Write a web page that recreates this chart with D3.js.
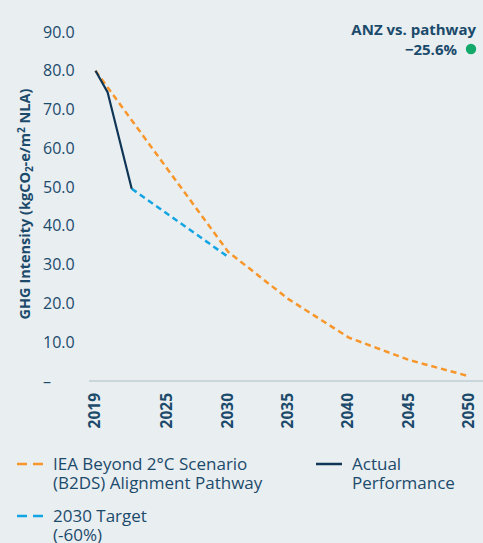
<!DOCTYPE html>
<html>
<head>
<meta charset="utf-8">
<script src="https://cdn.jsdelivr.net/npm/d3@7"></script>
<style>
  body { margin: 0; background: #e9eef1; }
  svg { display: block; font-family: "Open Sans", sans-serif; }
</style>
</head>
<body>
<div class="chart"></div>
<script>
// data
let pathwayYears = [2019, 2025, 2030, 2035, 2040, 2045, 2050];
let pathwayValues = [80, 54.5, 33.3, 21.1, 11.2, 5.4, 1.2];
let actualYears = [2019, 2020, 2022];
let actualValues = [80, 74.5, 49.6];
let targetYears = [2022, 2030];
let targetValues = [49.6, 32];
let xTicks = [2019, 2025, 2030, 2035, 2040, 2045, 2050];
let yTicks = [0, 10, 20, 30, 40, 50, 60, 70, 80, 90];

let svgWidth = 483;
let svgHeight = 543;
let navy = "#1b4a6b";

let svg = d3.select(".chart")
    .append("svg")
    .attr("width", svgWidth)
    .attr("height", svgHeight);

svg.append("rect")
    .attr("width", svgWidth)
    .attr("height", svgHeight)
    .attr("fill", "#e9eef1");

let xScale = d3.scaleLinear()
    .domain([2019, 2050])
    .range([95.5, 469.5]);
let yScale = d3.scaleLinear()
    .domain([0, 90])
    .range([381, 32]);

// baseline
svg.append("line")
    .attr("x1", 89)
    .attr("x2", svgWidth)
    .attr("y1", yScale(0))
    .attr("y2", yScale(0))
    .attr("stroke", "#c9d6dc")
    .attr("stroke-width", 2);

// y tick labels (left aligned)
svg.append("g")
    .selectAll("text")
    .data(yTicks)
    .enter()
    .append("text")
    .attr("x", 43)
    .attr("y", d => yScale(d))
    .attr("dy", "0.35em")
    .attr("fill", navy)
    .style("font-size", "16px")
    .text(d => d === 0 ? "–" : d.toFixed(1));

// x tick labels, rotated
svg.append("g")
    .selectAll("text")
    .data(xTicks)
    .enter()
    .append("text")
    .attr("transform", d => `translate(${xScale(d) - 1}, 393) rotate(-90)`)
    .attr("text-anchor", "end")
    .attr("dy", "0.35em")
    .attr("fill", navy)
    .style("font-size", "15.5px")
    .style("font-weight", "bold")
    .text(d => d);

// y axis title
let yTitle = svg.append("text")
    .attr("transform", `translate(25, 204) rotate(-90)`)
    .attr("text-anchor", "middle")
    .attr("dy", "0.35em")
    .attr("fill", navy)
    .style("font-size", "14.5px")
    .style("font-weight", "bold");
yTitle.append("tspan").text("GHG Intensity (kgCO");
yTitle.append("tspan").attr("dy", "3").style("font-size", "10px").text("2");
yTitle.append("tspan").attr("dy", "-3").text("-e/m");
yTitle.append("tspan").attr("dy", "-5").style("font-size", "10px").text("2");
yTitle.append("tspan").attr("dy", "5").text(" NLA)");

let line = d3.line()
    .x(d => xScale(d[0]))
    .y(d => yScale(d[1]));

svg.append("path")
    .datum(d3.zip(pathwayYears, pathwayValues))
    .attr("d", line)
    .attr("fill", "none")
    .attr("stroke", "#f7962a")
    .attr("stroke-width", 2.5)
    .attr("stroke-dasharray", "6,4");

svg.append("path")
    .datum(d3.zip(targetYears, targetValues))
    .attr("d", line)
    .attr("fill", "none")
    .attr("stroke", "#12a5e3")
    .attr("stroke-width", 2.5)
    .attr("stroke-dasharray", "6,4");

svg.append("path")
    .datum(d3.zip(actualYears, actualValues))
    .attr("d", line)
    .attr("fill", "none")
    .attr("stroke", "#0f3656")
    .attr("stroke-width", 2.2);

// annotation
svg.append("text")
    .attr("x", 476)
    .attr("y", 35)
    .attr("text-anchor", "end")
    .attr("fill", navy)
    .style("font-size", "15px")
    .style("font-weight", "bold")
    .text("ANZ vs. pathway");
svg.append("text")
    .attr("x", 457)
    .attr("y", 55)
    .attr("text-anchor", "end")
    .attr("fill", navy)
    .style("font-size", "15px")
    .style("font-weight", "bold")
    .text("\u221225.6%");
svg.append("circle")
    .attr("cx", 471)
    .attr("cy", 49)
    .attr("r", 5.2)
    .attr("fill", "#13a96b");

// legend
let legendItems = [
    {x: 17, y: 464, color: "#f7962a", dash: "10,6", lines: ["IEA Beyond 2°C Scenario", "(B2DS) Alignment Pathway"]},
    {x: 316, y: 464, color: "#0f3656", dash: null, lines: ["Actual", "Performance"]},
    {x: 17, y: 516, color: "#12a5e3", dash: "10,6", lines: ["2030 Target", "(-60%)"]}
];
let legend = svg.append("g")
    .selectAll("g")
    .data(legendItems)
    .enter()
    .append("g")
    .attr("transform", d => `translate(${d.x}, ${d.y})`);
legend.append("line")
    .attr("x1", 0)
    .attr("x2", 26)
    .attr("stroke", d => d.color)
    .attr("stroke-width", 2.5)
    .attr("stroke-dasharray", d => d.dash);
legend.append("text")
    .attr("fill", navy)
    .style("font-size", "17px")
    .selectAll("tspan")
    .data(d => d.lines)
    .enter()
    .append("tspan")
    .attr("x", 36)
    .attr("y", (d, i) => 5.5 + i * 19)
    .text(d => d);
</script>
</body>
</html>
